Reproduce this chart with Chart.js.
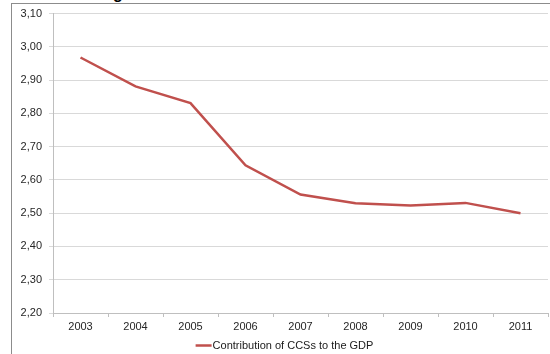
<!DOCTYPE html>
<html>
<head>
<meta charset="utf-8">
<script src="https://cdn.jsdelivr.net/npm/chart.js@4/dist/chart.umd.min.js"></script>
<style>
  html, body { margin: 0; padding: 0; background: #fff; overflow: hidden; }
  #wrap { position: relative; width: 550px; height: 354px; }
  #frame { position: absolute; left: 11px; top: 3px; width: 700px; height: 500px; border: 1px solid #8c8c8c; box-sizing: border-box; }
  #title { position: absolute; left: 113px; top: -14px; font: bold 16px "Liberation Sans", Arial, sans-serif; line-height: 16px; color: #000; white-space: nowrap; }
  canvas { position: absolute; left: 0; top: 0; }
</style>
</head>
<body>
<div id="wrap">
  <div id="frame"></div>
  <div id="title">g</div>
  <canvas id="c" width="550" height="354"></canvas>
</div>
<script>
const years = ["2003", "2004", "2005", "2006", "2007", "2008", "2009", "2010", "2011"];
const contribution = [2.968, 2.881, 2.831, 2.644, 2.556, 2.530, 2.523, 2.531, 2.500];
const seriesName = "Contribution of CCSs to the GDP";
const yMin = 2.20, yMax = 3.10, yStep = 0.10;

const FONT = '"Liberation Sans", Arial, sans-serif';

const legendPlugin = {
  id: 'lineLegend',
  afterDraw(chart) {
    const ctx = chart.ctx;
    const ds = chart.data.datasets[0];
    ctx.save();
    ctx.font = '11px ' + FONT;
    const tw = ctx.measureText(ds.label).width;
    const lineW = 16;
    const total = lineW + 1 + tw;
    const cx = (chart.chartArea.left + chart.chartArea.right) / 2 - 16;
    const x0 = cx - total / 2;
    const y = 345.5;
    ctx.strokeStyle = ds.borderColor;
    ctx.lineWidth = 2.5;
    ctx.beginPath();
    ctx.moveTo(x0, y);
    ctx.lineTo(x0 + lineW, y);
    ctx.stroke();
    ctx.fillStyle = '#1a1a1a';
    ctx.textBaseline = 'middle';
    ctx.textAlign = 'left';
    ctx.fillText(ds.label, x0 + lineW + 1, y);
    ctx.restore();
  }
};

new Chart(document.getElementById('c'), {
  type: 'line',
  data: {
    labels: years,
    datasets: [{
      label: seriesName,
      data: contribution,
      borderColor: '#c0504d',
      borderWidth: 2.5,
      pointRadius: 0,
      tension: 0,
      fill: false
    }]
  },
  options: {
    responsive: false,
    animation: false,
    devicePixelRatio: 1,
    layout: { padding: { top: 13, right: 2, bottom: 0, left: 0 } },
    plugins: { legend: { display: false }, tooltip: { enabled: false }, title: { display: false } },
    scales: {
      x: {
        offset: true,
        grid: { offset: true, drawOnChartArea: false, drawTicks: true, tickLength: 4, color: '#bfbfbf' },
        border: { color: '#bfbfbf', width: 1 },
        ticks: { color: '#262626', font: { family: FONT, size: 11 }, padding: 3, maxRotation: 0, autoSkip: false },
        afterFit(s) { s.height = 41; }
      },
      y: {
        min: yMin, max: yMax,
        grid: { color: '#d9d9d9', tickLength: 4, drawTicks: true },
        border: { color: '#bfbfbf', width: 1 },
        ticks: {
          stepSize: yStep,
          color: '#262626',
          font: { family: FONT, size: 11 },
          padding: 7,
          callback: (v) => Number(v).toFixed(2).replace('.', ',')
        },
        afterFit(s) { s.width = 53; }
      }
    }
  },
  plugins: [legendPlugin]
});
</script>
</body>
</html>
